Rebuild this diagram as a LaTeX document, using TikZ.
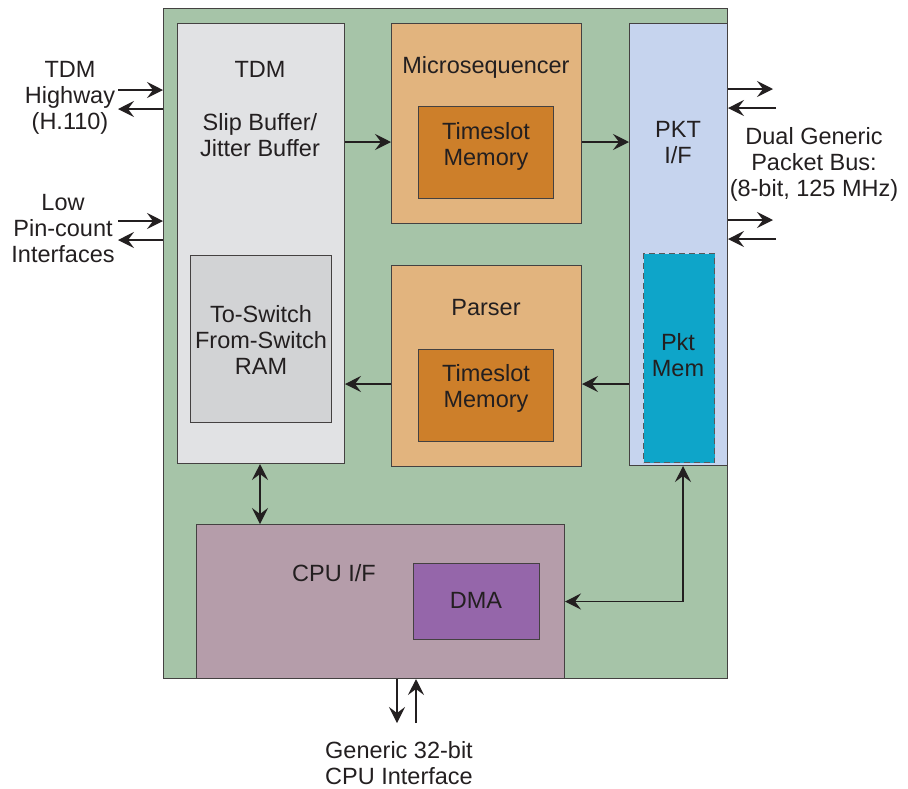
\documentclass[tikz,border=0pt]{standalone}
\usepackage{fontspec}
\setmainfont{Liberation Sans}
\usepackage{xcolor}
\usetikzlibrary{arrows.meta,positioning}

\definecolor{boardgreen}{HTML}{A6C4A8}
\definecolor{tdmgray}{HTML}{E1E2E4}
\definecolor{ramgray}{HTML}{D2D3D5}
\definecolor{seqorange}{HTML}{E2B47E}
\definecolor{tsorange}{HTML}{CD7F2A}
\definecolor{pktblue}{HTML}{C6D4EE}
\definecolor{memcyan}{HTML}{0EA5C9}
\definecolor{cpumauve}{HTML}{B59DAA}
\definecolor{dmapurple}{HTML}{9566AA}
\definecolor{ink}{HTML}{231F20}

\tikzset{
  blk/.style={draw=ink!85, line width=1pt, inner sep=0pt, anchor=north west},
  lbl/.style={align=center, text=ink, font=\fontsize{23.5}{26}\selectfont},
  arr/.style={-{Stealth[length=16pt,width=16pt,inset=6pt]}, line width=1.3pt, ink},
  arrboth/.style={{Stealth[length=16pt,width=16pt,inset=6pt]}-{Stealth[length=16pt,width=16pt,inset=6pt]}, line width=1.3pt, ink},
}

\begin{document}
\begin{tikzpicture}[x=1pt,y=-1pt]
    \useasboundingbox (0,0) rectangle (908,788);

    % Board and blocks
    \node[blk, fill=boardgreen, minimum width=564pt, minimum height=670pt] (board) at (163,8) {};
    \node[blk, fill=tdmgray, minimum width=167pt, minimum height=440pt] (tdm) at (177,23) {};
    \node[blk, fill=ramgray, minimum width=141pt, minimum height=167pt] (ram) at (190,255) {};
    \node[blk, fill=seqorange, minimum width=190pt, minimum height=200pt] (micro) at (391,23) {};
    \node[blk, fill=tsorange, minimum width=135pt, minimum height=92pt] (tsa) at (418,106) {};
    \node[blk, fill=seqorange, minimum width=190pt, minimum height=201pt] (parser) at (391,265) {};
    \node[blk, fill=tsorange, minimum width=135pt, minimum height=92pt] (tsb) at (418,349) {};
    \node[blk, fill=pktblue, minimum width=98pt, minimum height=442pt] (pkt) at (629,23) {};
    \node[blk, fill=memcyan, draw=ink!75, dash pattern=on 6pt off 4pt, minimum width=71pt, minimum height=209pt] (pktmem) at (643,253) {};
    \node[blk, fill=cpumauve, minimum width=368pt, minimum height=154pt] (cpu) at (196,524) {};
    \node[blk, fill=dmapurple, minimum width=126pt, minimum height=76pt] (dma) at (413,563) {};

    % Labels
    \node[lbl] (tdmtitle) at (260,69) {TDM};
    \node[lbl] (slip) at (260,135) {Slip Buffer/\\Jitter Buffer};
    \node[lbl] (ramtext) at (261,340) {To-Switch\\From-Switch\\RAM};
    \node[lbl] (microtext) at (486,67) {Microsequencer};
    \node[lbl] (tsatext) at (486,146) {Timeslot\\Memory};
    \node[lbl] (parsertext) at (486,308) {Parser};
    \node[lbl] (tsbtext) at (486,388) {Timeslot\\Memory};
    \node[lbl] (pkttext) at (678,143) {PKT\\I/F};
    \node[lbl] (memtext) at (678,355) {Pkt\\Mem};
    \node[lbl] (cputext) at (334,573) {CPU I/F};
    \node[lbl] (dmatext) at (476,600) {DMA};
    \node[lbl] (hwtext) at (70,98) {TDM\\Highway\\(H.110)};
    \node[lbl] (pintext) at (63,229) {Low\\Pin-count\\Interfaces};
    \node[lbl] (bustext) at (814,164) {Dual Generic\\Packet Bus:\\(8-bit, 125 MHz)};
    \node[lbl] (hosttext) at (399,763) {Generic 32-bit\\CPU Interface};

    % Free ends and rows
    \coordinate (hwin) at (118,90);
    \coordinate (hwout) at (118,109);
    \coordinate (pinin) at (118,221);
    \coordinate (pinout) at (118,240);
    \coordinate (busaout) at (773,89);
    \coordinate (busain) at (776,108);
    \coordinate (busbout) at (773,220);
    \coordinate (busbin) at (776,239);
    \coordinate (hostout) at (397,723);
    \coordinate (hostin) at (416,723);
    \coordinate (rowtop) at (0,142);
    \coordinate (rowbot) at (0,384);
    \coordinate (tdmtap) at (260,0);
    \coordinate (memtap) at (683,0);

    % Outside connections
    \draw[arr] (hwin) -- (board.west |- hwin);
    \draw[arr] (board.west |- hwout) -- (hwout);
    \draw[arr] (pinin) -- (board.west |- pinin);
    \draw[arr] (board.west |- pinout) -- (pinout);
    \draw[arr] (board.east |- busaout) -- (busaout);
    \draw[arr] (busain) -- (board.east |- busain);
    \draw[arr] (board.east |- busbout) -- (busbout);
    \draw[arr] (busbin) -- (board.east |- busbin);
    \draw[arr] (cpu.south -| hostout) -- (hostout);
    \draw[arr] (hostin) -- (cpu.south -| hostin);

    % Internal data paths
    \draw[arr] (tdm.east |- rowtop) -- (micro.west |- rowtop);
    \draw[arr] (micro.east |- rowtop) -- (pkt.west |- rowtop);
    \draw[arr] (pkt.west |- rowbot) -- (parser.east |- rowbot);
    \draw[arr] (parser.west |- rowbot) -- (tdm.east |- rowbot);
    \draw[arrboth] (tdm.south -| tdmtap) -- (cpu.north -| tdmtap);
    \draw[arrboth] (pkt.south -| memtap) |- (cpu.east);
\end{tikzpicture}
\end{document}
